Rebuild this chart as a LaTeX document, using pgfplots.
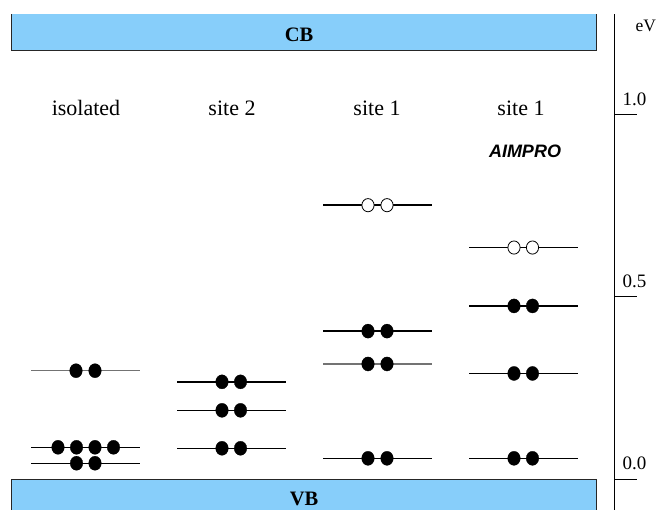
\documentclass[border=0pt]{standalone}
\usepackage{fontspec}
\setmainfont{Liberation Serif}
\newfontfamily\helv{Liberation Sans}
\usepackage{pgfplots}
\pgfplotsset{compat=1.18}
\definecolor{band}{RGB}{135,206,250}
\begin{document}
\begin{tikzpicture}
\begin{axis}[at={(0,0)}, anchor=south west, scale only axis,
  width=656pt, height=510pt, xmin=0, xmax=656, ymin=-0.0841, ymax=1.3132,
  hide axis, clip=false,
  lev/.style={black, line width=1.4pt},
  levg/.style={black!55, line width=1.4pt},
  dots/.style={only marks, mark=*, mark size=6.3pt, mark options={fill=black, draw=black, line width=0.3pt, yscale=1.12}},
  open/.style={only marks, mark=*, mark size=6.1pt, mark options={fill=white, draw=black, line width=0.8pt, yscale=1.08}},
  every node/.append style={inner sep=0pt}]
% bands
\addplot[fill=band, draw=none] coordinates {(11,1.1762) (596,1.1762) (596,1.2748) (11,1.2748) (11,1.1762)};
\addplot[black!85, line width=0.9pt] coordinates {(11,1.2748) (11,1.1762) (596,1.1762) (596,1.2748)};
\addplot[fill=band, draw=none] coordinates {(11,-0.0841) (596,-0.0841) (596,0) (11,0) (11,-0.0841)};
\addplot[black!85, line width=0.9pt] coordinates {(11,-0.0841) (11,0) (596,0) (596,-0.0841)};
% energy axis
\addplot[black, line width=1pt] coordinates {(614.7,1.2748) (614.7,-0.0841)};
\addplot[black, line width=1pt] coordinates {(614.7,1.0) (636.7,1.0)};
\addplot[black, line width=1pt] coordinates {(614.7,0.5) (636.7,0.5)};
\addplot[black, line width=1pt] coordinates {(614.7,0.0) (636.7,0.0)};
% isolated
\addplot[levg] coordinates {(31,0.2975) (140,0.2975)};
\addplot[lev] coordinates {(31,0.0877) (140,0.0877)};
\addplot[lev] coordinates {(31,0.044) (140,0.044)};
\addplot[dots] coordinates {(76,0.2975) (95,0.2975)};
\addplot[dots] coordinates {(58,0.0877) (76.5,0.0877) (95,0.0877) (113.5,0.0877)};
\addplot[dots] coordinates {(76.5,0.044) (95,0.044)};
% site 2
\addplot[lev] coordinates {(177,0.267) (286,0.267)};
\addplot[lev] coordinates {(177,0.189) (286,0.189)};
\addplot[lev] coordinates {(177,0.085) (286,0.085)};
\addplot[dots] coordinates {(222,0.267) (240.5,0.267) (222,0.189) (240.5,0.189) (222,0.085) (240.5,0.085)};
% site 1
\addplot[lev] coordinates {(323,0.751) (432,0.751)};
\addplot[lev] coordinates {(323,0.406) (432,0.406)};
\addplot[levg] coordinates {(323,0.316) (432,0.316)};
\addplot[lev] coordinates {(323,0.0575) (432,0.0575)};
\addplot[open] coordinates {(368,0.751) (387,0.751)};
\addplot[dots] coordinates {(368,0.406) (387,0.406) (368,0.316) (387,0.316) (368,0.0575) (387,0.0575)};
% site 1 AIMPRO
\addplot[lev] coordinates {(469,0.635) (578,0.635)};
\addplot[lev] coordinates {(469,0.475) (578,0.475)};
\addplot[lev] coordinates {(469,0.290) (578,0.290)};
\addplot[lev] coordinates {(469,0.0575) (578,0.0575)};
\addplot[open] coordinates {(514,0.635) (532.5,0.635)};
\addplot[dots] coordinates {(514,0.475) (532.5,0.475) (514,0.290) (532.5,0.290) (514,0.0575) (532.5,0.0575)};
% texts
\node[anchor=base, font=\bfseries\fontsize{20.5}{22}\selectfont] at (axis cs:299,1.2008) {CB};
\node[anchor=base, font=\bfseries\fontsize{20.5}{22}\selectfont] at (axis cs:304,-0.073) {VB};
\node[anchor=base, font=\fontsize{22}{24}\selectfont] at (axis cs:86,0.998) {isolated};
\node[anchor=base, font=\fontsize{22}{24}\selectfont] at (axis cs:232,0.998) {site 2};
\node[anchor=base, font=\fontsize{22}{24}\selectfont] at (axis cs:377,0.998) {site 1};
\node[anchor=base, font=\fontsize{22}{24}\selectfont] at (axis cs:521,0.998) {site 1};
\node[anchor=base, font=\helv\bfseries\itshape\fontsize{18}{20}\selectfont] at (axis cs:525,0.881) {AIMPRO};
\node[anchor=base west, font=\fontsize{19}{21}\selectfont] at (axis cs:619,1.0236) {1.0};
\node[anchor=base west, font=\fontsize{19}{21}\selectfont] at (axis cs:619,0.525) {0.5};
\node[anchor=base west, font=\fontsize{19}{21}\selectfont] at (axis cs:619,0.0255) {0.0};
\node[anchor=base west, font=\fontsize{17.5}{19}\selectfont] at (axis cs:632,1.2263) {eV};
\end{axis}
\pgfresetboundingbox
\path (0,0) rectangle (656pt,510pt);
\end{tikzpicture}
\end{document}
